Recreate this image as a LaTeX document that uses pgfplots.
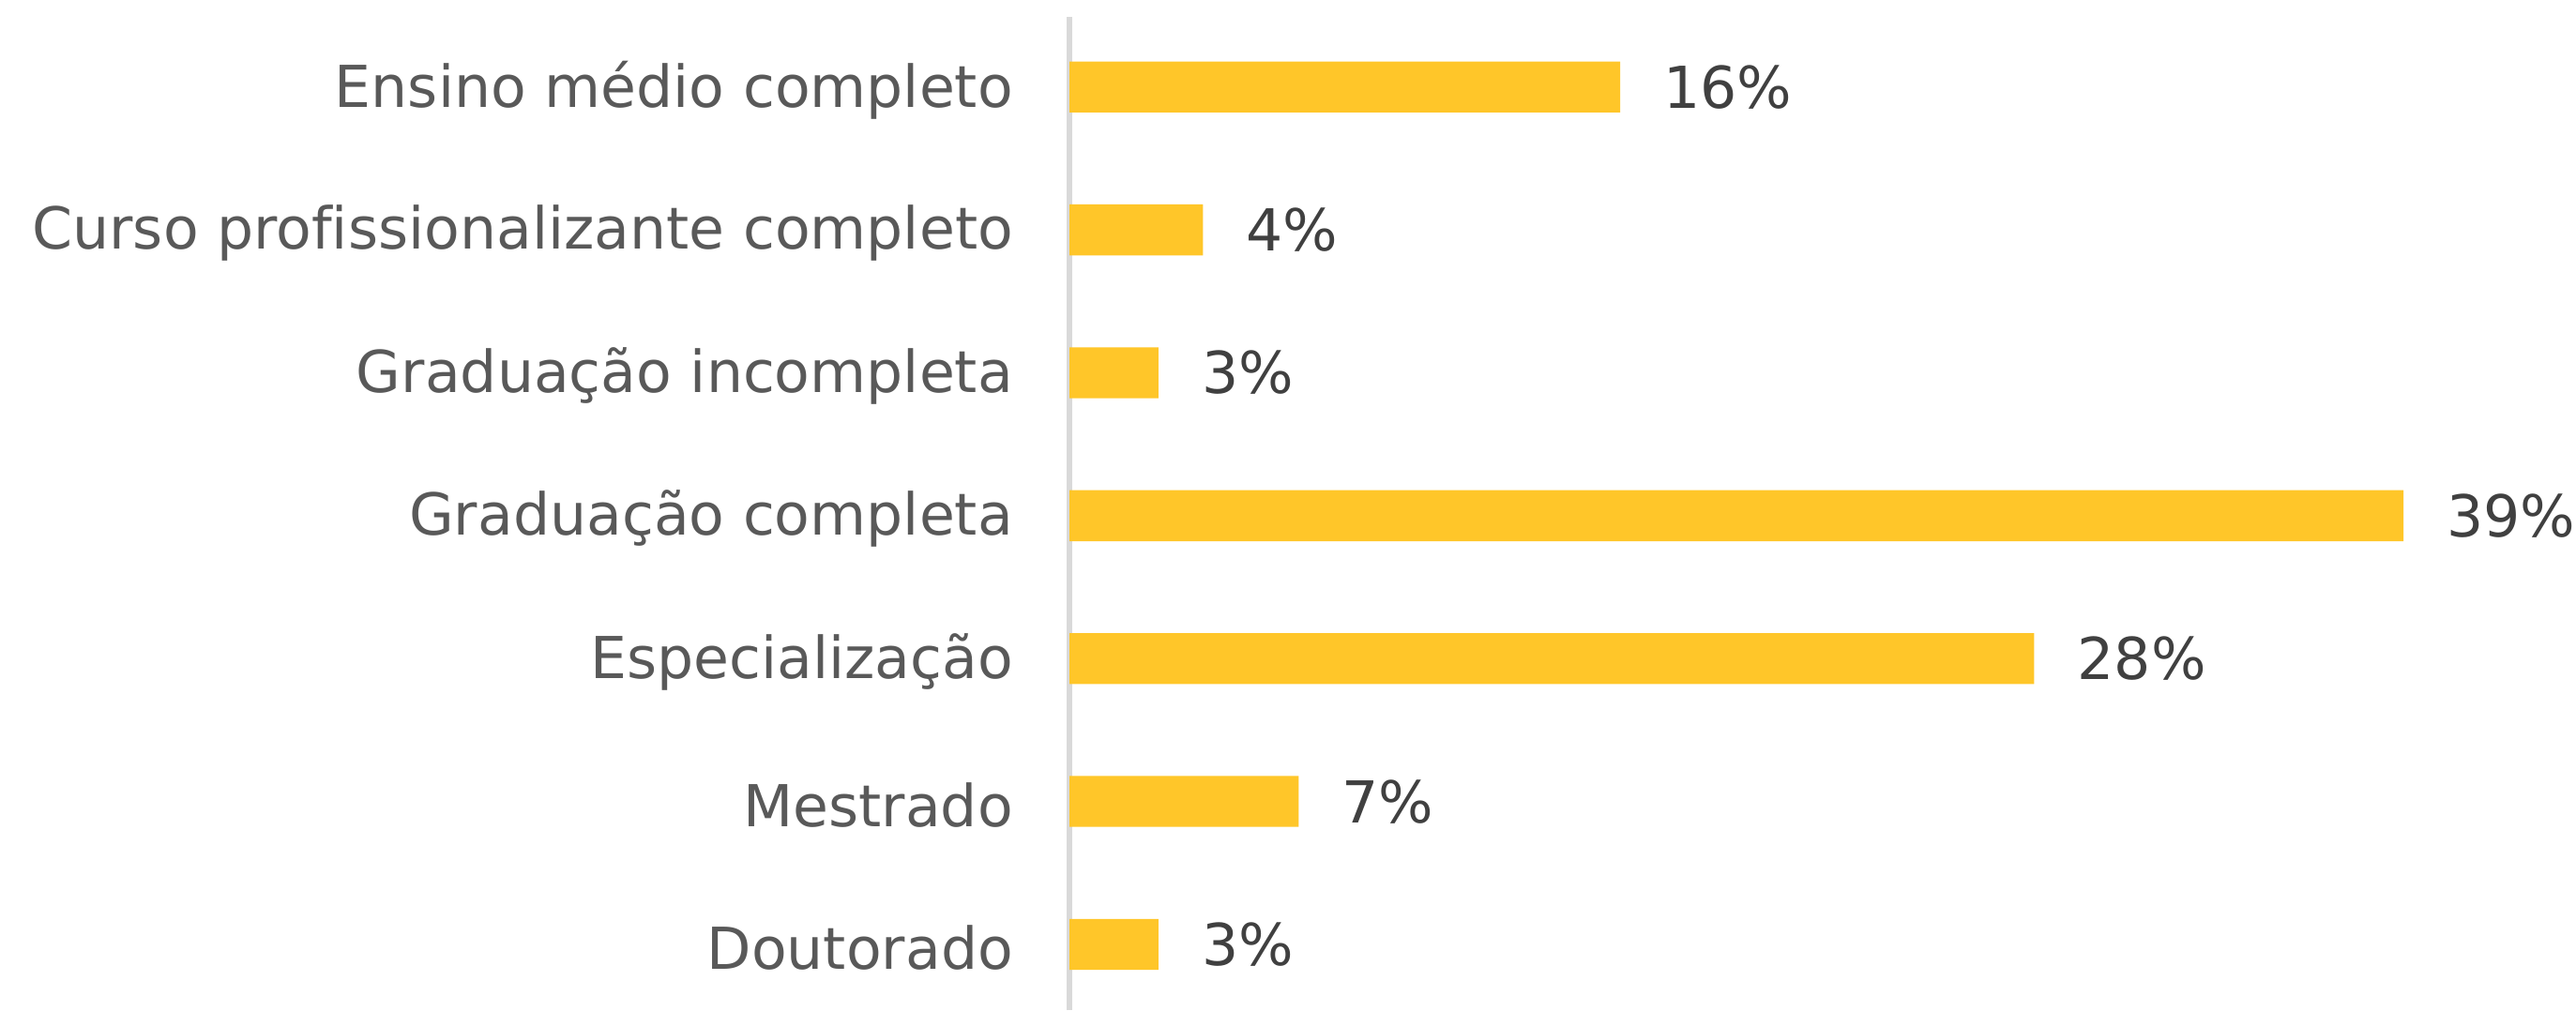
\documentclass[border=0pt]{standalone}
\usepackage{pgfplots}
\pgfplotsset{compat=1.18}
\usepackage{fontspec}
\setmainfont[Ligatures=NoCommon]{DejaVu Sans}
\definecolor{barc}{HTML}{FFC629}
\definecolor{labc}{HTML}{595959}
\definecolor{valc}{HTML}{404040}
\definecolor{linec}{HTML}{D9D9D9}
\begin{document}
\begin{tikzpicture}
\begin{axis}[
  at={(0,0)}, anchor=south west,
  width=458.5pt, height=302.5pt, scale only axis,
  xmin=0, xmax=44.04, ymin=-0.46, ymax=6.494,
  xbar, bar width=15.5pt,
  axis x line=none, axis y line=left,
  y axis line style={draw=linec, line width=1.5pt, -},
  ytick={0,1,2,3,4,5,6},
  yticklabels={Doutorado, Mestrado, Especialização, Graduação completa, Graduação incompleta, Curso profissionalizante completo, Ensino médio completo},
  major tick length=0pt, ytick style={draw=none},
  yticklabel style={font=\fontsize{17.6}{20}\selectfont, text=labc, inner sep=0pt, xshift=-17pt, yshift=-1pt},
  nodes near coords, point meta=explicit symbolic,
  every node near coord/.append style={font=\fontsize{17.6}{20}\selectfont, text=valc, anchor=west, inner sep=0pt, xshift=13pt},
  clip=false,
]
\addplot[fill=barc, draw=none] coordinates {
  (2.6,0) [3\%]
  (6.7,1) [7\%]
  (28.2,2) [28\%]
  (39.0,3) [39\%]
  (2.6,4) [3\%]
  (3.9,5) [4\%]
  (16.1,6) [16\%]
};
\end{axis}
\pgfresetboundingbox
\path[use as bounding box] (-325.5pt,0) rectangle (458.5pt,307.5pt);
\end{tikzpicture}
\end{document}
